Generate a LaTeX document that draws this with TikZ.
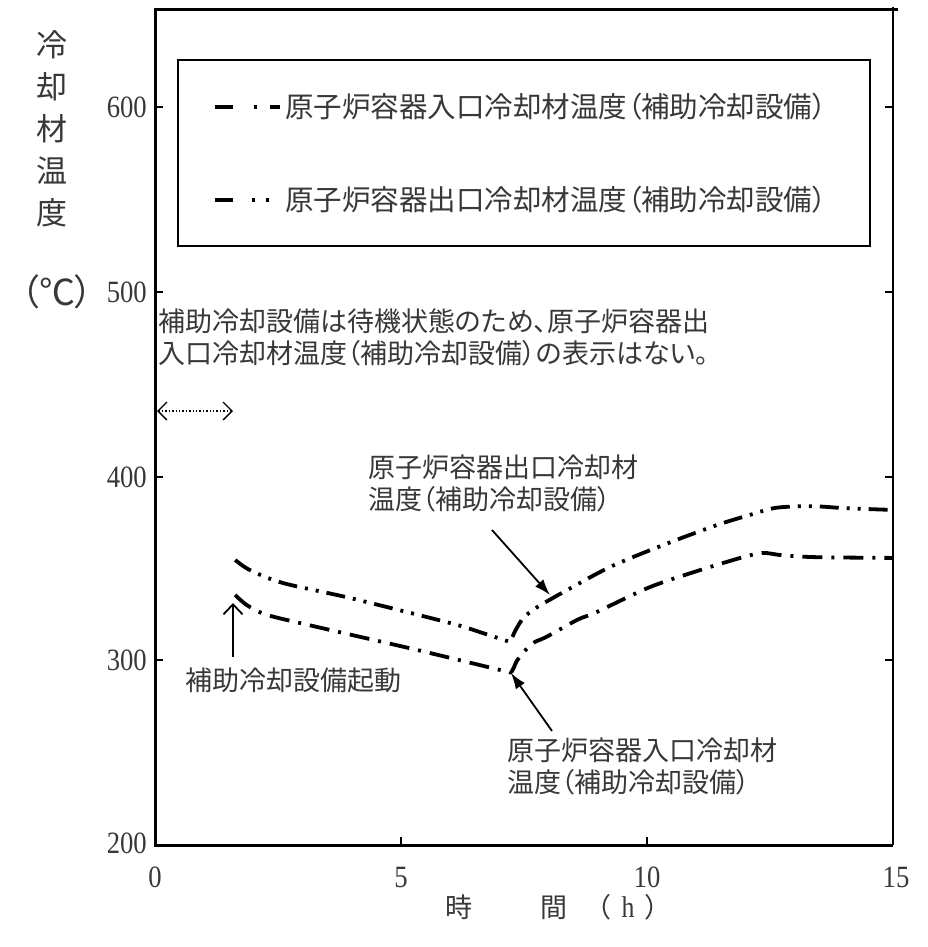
\documentclass[tikz,border=0pt]{standalone}
\usepackage{fontspec}
\usetikzlibrary{arrows.meta}
\newfontfamily\jp[RawFeature=+palt]{Noto Sans CJK JP}
\newfontfamily\numfam[FakeStretch=0.86]{Liberation Serif}
\definecolor{txt}{gray}{0.22}
\newcommand\jpL{\jp\fontsize{28.5}{34}\selectfont}
\newcommand\jpM{\jp\fontsize{27}{32}\selectfont}
\newcommand\numF{\numfam\fontsize{31}{36}\selectfont}
\begin{document}
\begin{tikzpicture}[x=1pt,y=-1pt,
  ax/.style={line width=3pt},
  tk/.style={line width=1.8pt},
  jtext/.style={font=\jpM, text=txt, inner sep=0pt},
  num/.style={font=\numF, text=txt, inner sep=0pt},
  inlet/.style={line width=3.8pt, dash pattern=on 20pt off 9pt on 3pt off 9pt},
  outlet/.style={line width=3.8pt, dash pattern=on 19pt off 8pt on 3pt off 8pt on 3pt off 8pt},
  ptr/.style={line width=1.8pt, -{Latex[length=16pt,width=11pt]}},
  barb/.style={line width=1.8pt, -{Straight Barb[length=10pt,width=19pt]}},
]
\useasboundingbox (0,0) rectangle (928,947);
\fill[white] (0,0) rectangle (928,947);

% axes
\draw[ax] (898,10) -- (155,10) -- (155,845) -- (893,845);
\draw[line width=1.8pt] (893,7) -- (893,845);
\foreach \yy in {107,292,477,660} {
  \draw[tk] (155,\yy) -- ++(8,0);
  \draw[tk] (893,\yy) -- ++(-8,0);
}
\foreach \xx in {401,647} \draw[tk] (\xx,845) -- ++(0,-8);

% tick labels
\node[num, anchor=east] (y600) at (147,107) {600};
\node[num, anchor=east] (y500) at (147,292) {500};
\node[num, anchor=east] (y400) at (147,477) {400};
\node[num, anchor=east] (y300) at (147,660) {300};
\node[num, anchor=east] (y200) at (147,843) {200};
\node[num] (x0) at (155,877) {0};
\node[num] (x5) at (401,877) {5};
\node[num] (x10) at (647,877) {10};
\node[num] (x15) at (896,877) {15};

% axis titles
\node[jtext, font=\jp\fontsize{31}{42}\selectfont, align=center] (ylab) at (52,129) {冷\\却\\材\\温\\度};
\node[jtext, font=\jp\fontsize{36}{40}\selectfont] (unit) at (57,292) {（℃）};
\node[jtext, anchor=west] (xlab) at (445,907) {時\hspace{68pt}間\hspace{30pt}（\hspace{11pt}{\numfam\fontsize{30}{34}\selectfont h}\hspace{11pt}）};

% legend
\node[draw=black, line width=2pt, minimum width=692pt, minimum height=186pt, inner sep=0pt] (legend) at (524,153) {};
\draw[line width=3.8pt, dash pattern=on 18pt off 20.5pt on 3pt off 13.5pt on 10pt] (215,107) -- (280,107);
\draw[line width=3.8pt, dash pattern=on 18pt off 18.5pt on 3pt off 11.5pt on 3pt] (215,200) -- (269,200);
\node[jtext, font=\jpL, anchor=west] (leg1) at (285,107) {原子炉容器入口冷却材温度（補助冷却設備）};
\node[jtext, font=\jpL, anchor=west] (leg2) at (285,200) {原子炉容器出口冷却材温度（補助冷却設備）};

% note
\node[jtext, anchor=west, align=left] (note) at (158,337.5) {補助冷却設備は待機状態のため、原子炉容器出\\入口冷却材温度（補助冷却設備）の表示はない。};
\coordinate (d1) at (157,411);
\coordinate (d2) at (233,411);
\draw[dotted, line width=1.4pt, {Straight Barb[length=9pt,width=18pt]}-{Straight Barb[length=9pt,width=18pt]}] (d1) -- (d2);

% curves
\begin{scope}[shift={(155pt,-1214pt)}, x=49.2pt, y=1.845pt]
\draw[outlet] plot[smooth] coordinates {(1.63,354.5) (1.93,349) (2.6,342) (3.96,333.9) (6.0,320.3) (6.67,314.8) (7.05,311.5) (7.22,310)}
  --plot[smooth] coordinates {(7.27,313) (7.33,316.5) (7.5,323.5) (7.8,329.5) (8.03,333) (8.33,337.5) (9.25,350.7) (10.33,362.6) (11.42,373.4) (12.09,378.9) (12.56,382.5) (13.0,383.5) (13.5,383.5) (14.0,382.6) (15,381.6)};
\draw[inlet] plot[smooth] coordinates {(1.63,335.5) (1.87,330) (2.28,324.7) (3.29,318.2) (5.33,305.7) (7.07,294.5) (7.24,293.5)}
  --plot[smooth] coordinates {(7.3,296.5) (7.36,300) (7.56,306.5) (7.72,310) (7.97,313) (8.58,322) (8.98,326.3) (10.06,339.8) (11.08,349) (11.95,356) (12.36,358.3) (12.76,357) (13.45,356) (15,355.6)};
\end{scope}

% labels and pointers
\node[jtext, anchor=west] (startlbl) at (185,680) {補助冷却設備起動};
\coordinate (s1) at (233,657);
\coordinate (s2) at (233,603);
\draw[barb] (s1) -- (s2);

\node[jtext, anchor=west, align=left] (outlbl) at (368,483.5) {原子炉容器出口冷却材\\温度（補助冷却設備）};
\coordinate (o1) at (492,530);
\coordinate (o2) at (550,595);
\draw[ptr] (o1) -- (o2);

\node[jtext, anchor=west, align=left] (inlbl) at (507,766.5) {原子炉容器入口冷却材\\温度（補助冷却設備）};
\coordinate (i1) at (552,731);
\coordinate (i2) at (511,673);
\draw[ptr] (i1) -- (i2);
\end{tikzpicture}
\end{document}
